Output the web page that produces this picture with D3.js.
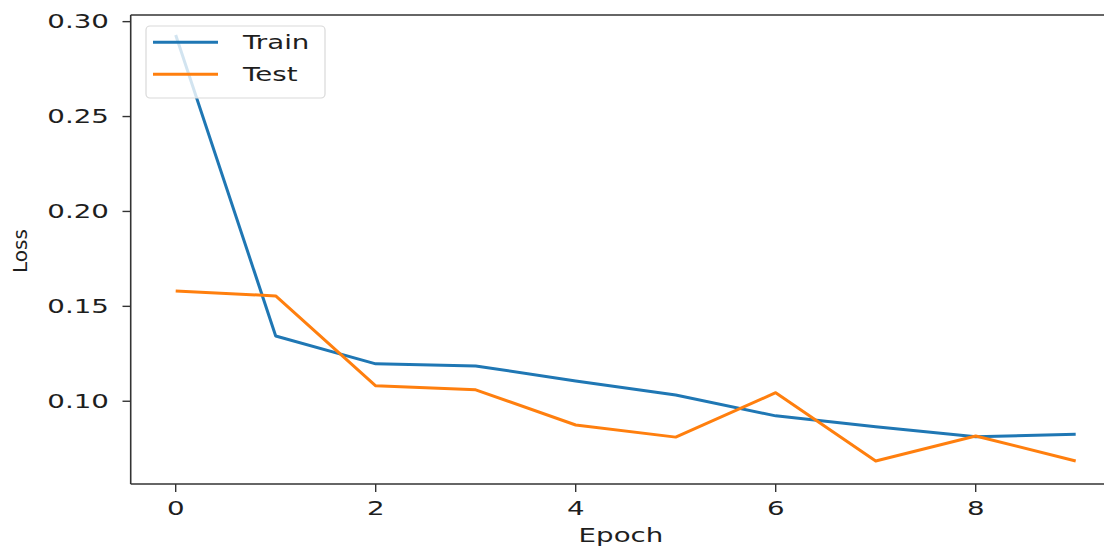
<!DOCTYPE html>
<html><head><meta charset="utf-8">
<script src="https://cdn.jsdelivr.net/npm/d3@7"></script>
<style>body{margin:0;background:#fff}svg{display:block}text{font-family:"DejaVu Sans",sans-serif;fill:#1e1e1e}</style>
</head><body><svg id="c" width="1104" height="549"></svg>
<script>
const epochs = [0,1,2,3,4,5,6,7,8,9];
const trainLoss = [0.293,0.1344,0.1197,0.1186,0.1107,0.1033,0.0923,0.0866,0.0813,0.0826];
const testLoss  = [0.1581,0.1555,0.1081,0.1060,0.0875,0.0811,0.1045,0.0685,0.0817,0.0685];
const xTicks = [0,2,4,6,8];
const yTicks = [0.10,0.15,0.20,0.25,0.30];
const seriesNames = ["Train","Test"];
const colors = ["#1f77b4","#ff7f0e"];

const svg = d3.select("#c");
const SX = 1.42, FS = 19.5;
const x = d3.scaleLinear().domain([-0.45,9.45]).range([130.7,1120.7]);
const y = d3.scaleLinear().domain([0.0564,0.3035]).range([484,15]);

function stext(px,py,str,anchor,baseline){
  const g = svg.append("g").attr("transform",`translate(${px},${py}) scale(${SX},1)`);
  g.append("text").attr("text-anchor",anchor).attr("dominant-baseline",baseline||"auto")
   .attr("font-size",FS).text(str);
}

// lines
const line = d3.line().x((d,i)=>x(epochs[i])).y(d=>y(d));
[trainLoss,testLoss].forEach((s,k)=>{
  svg.append("path").datum(s).attr("d",line).attr("fill","none")
    .attr("stroke",colors[k]).attr("stroke-width",3).attr("stroke-linejoin","round");
});

// spines
const sp = "#333";
svg.append("line").attr("x1",x.range()[0]).attr("x2",x.range()[0]).attr("y1",y.range()[1]).attr("y2",y.range()[0]).attr("stroke",sp).attr("stroke-width",1.6);
svg.append("line").attr("x1",x.range()[0]).attr("x2",x.range()[1]).attr("y1",y.range()[0]).attr("y2",y.range()[0]).attr("stroke",sp).attr("stroke-width",1.6);
svg.append("line").attr("x1",x.range()[0]).attr("x2",x.range()[1]).attr("y1",y.range()[1]).attr("y2",y.range()[1]).attr("stroke",sp).attr("stroke-width",1.6);

// y ticks
yTicks.forEach(t=>{
  svg.append("line").attr("x1",122.5).attr("x2",x.range()[0]).attr("y1",y(t)).attr("y2",y(t)).attr("stroke",sp).attr("stroke-width",1.4);
  stext(109,y(t),t.toFixed(2),"end","central");
});
// x ticks
xTicks.forEach(t=>{
  svg.append("line").attr("x1",x(t)).attr("x2",x(t)).attr("y1",484).attr("y2",492).attr("stroke",sp).attr("stroke-width",1.4);
  stext(x(t),515,String(t),"middle");
});

// axis labels
stext(621,541.5,"Epoch","middle");
svg.append("text").attr("transform","translate(27,251) rotate(-90)").attr("text-anchor","middle")
  .attr("font-size",20).text("Loss");

// legend
svg.append("rect").attr("x",146).attr("y",26).attr("width",179).attr("height",72).attr("rx",4)
  .attr("fill","rgba(255,255,255,0.8)").attr("stroke","#d9d9d9").attr("stroke-width",1.2);
seriesNames.forEach((n,k)=>{
  const ly = 42.3 + k*32;
  svg.append("line").attr("x1",153).attr("x2",218).attr("y1",ly).attr("y2",ly).attr("stroke",colors[k]).attr("stroke-width",3);
  stext(243,ly,n,"start","central");
});
</script></body></html>
